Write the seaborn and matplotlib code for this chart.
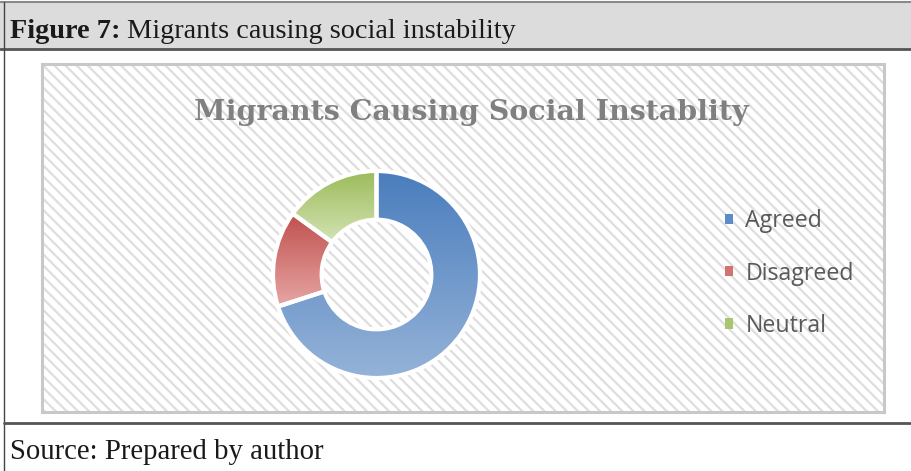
import numpy as np
import matplotlib
matplotlib.use("Agg")
import matplotlib.pyplot as plt
import matplotlib.patches as mpatches
from matplotlib.colors import LinearSegmentedColormap
import seaborn as sns

# ---- data ----
categories = ["Agreed", "Disagreed", "Neutral"]
values = [70, 15, 15]
top_colors = ["#4a7dbd", "#c0504d", "#9bbb59"]
bottom_colors = ["#95b3d8", "#e6a6a5", "#d3e3b4"]
legend_colors = ["#5f8cc8", "#d07472", "#a8c66e"]
chart_title = "Migrants Causing Social Instablity"
fig_label = "Figure 7:"
fig_caption = " Migrants causing social instability"
source_text = "Source: Prepared by author"

sns.set_theme(style="white")
plt.rcParams["font.family"] = ["DejaVu Sans"]
plt.rcParams["hatch.linewidth"] = 1.6

W, H = 912, 471
fig = plt.figure(figsize=(W / 100, H / 100), dpi=100)
fig.patch.set_facecolor("white")

# decoration axes in pixel coords
bg = fig.add_axes([0, 0, 1, 1])
bg.set_xlim(0, W)
bg.set_ylim(H, 0)
bg.axis("off")

# header band
bg.add_patch(mpatches.Rectangle((0, 2), W, 47, facecolor="#dcdcdd", edgecolor="none", zorder=0))
bg.plot([0, W], [2, 2], color="#8a8a8a", lw=1.5, zorder=1)
bg.plot([0, W], [48.5, 48.5], color="#555555", lw=2, zorder=1)
bg.plot([4.5, 4.5], [2, H], color="#444444", lw=1, zorder=1)
bg.plot([4.5, W], [423, 423], color="#555555", lw=2, zorder=1)

# chart area with hatched background
bg.add_patch(mpatches.Rectangle((42, 64), 842, 348, facecolor="white", edgecolor="#dedede",
                                linewidth=0, hatch="\\\\\\", zorder=0))
bg.add_patch(mpatches.Rectangle((42, 64), 842, 348, facecolor="none", edgecolor="#c8c8c8",
                                lw=2.2, zorder=1))

# header text
t1 = bg.text(10, 38, fig_label, fontsize=20.3, fontweight="bold", family="Liberation Serif",
             color="#1a1a1a", ha="left", va="baseline")
fig.canvas.draw()
r = fig.canvas.get_renderer()
bb = t1.get_window_extent(renderer=r)
bg.text(bb.x1, 38, fig_caption, fontsize=20.3, family="Liberation Serif",
        color="#1a1a1a", ha="left", va="baseline")

bg.text(10, 459, source_text, fontsize=20.7, family="Liberation Serif",
        color="#1a1a1a", ha="left", va="baseline")

# chart title
bg.text(471, 120, chart_title, fontsize=20.5, fontweight="bold", family="DejaVu Serif",
        color="#808080", ha="center", va="baseline")

# donut
cx, cy, R = 376.5, 274.5, 103.5
ax = fig.add_axes([(cx - R) / W, (H - cy - R) / H, 2 * R / W, 2 * R / H])
wedges, _ = ax.pie(values, startangle=90, counterclock=False, colors=legend_colors,
                   wedgeprops=dict(width=0.47, edgecolor="white", linewidth=3))
ax.set_xlim(-1, 1)
ax.set_ylim(-1, 1)
ax.set_aspect("equal")
ax.axis("off")
ax.patch.set_alpha(0)

grad = np.linspace(0, 1, 256).reshape(-1, 1)
for w, ct, cb in zip(wedges, top_colors, bottom_colors):
    ext = w.get_path().get_extents()
    cmap = LinearSegmentedColormap.from_list("g", [ct, cb])
    im = ax.imshow(grad, cmap=cmap, aspect="auto", origin="upper",
                   extent=(ext.x0, ext.x1, ext.y0, ext.y1), zorder=w.get_zorder() + 0.1)
    im.set_clip_path(w)
    w.set_zorder(w.get_zorder() + 0.2)
    w.set_facecolor("none")
ax.set_xlim(-1, 1)
ax.set_ylim(-1, 1)

handles = [mpatches.Patch(facecolor=c, edgecolor="none", label=l)
           for c, l in zip(legend_colors, categories)]
leg = fig.legend(handles=handles, loc="center left", bbox_to_anchor=(704 / W, (H - 273.5) / H),
                 frameon=False, handlelength=0.33, handleheight=0.33,
                 handletextpad=0.55, labelspacing=1.22, prop={"family": "Open Sans", "size": 16.7})
for t in leg.get_texts():
    t.set_color("#595959")

fig.savefig("out.png", dpi=100, facecolor="white")
